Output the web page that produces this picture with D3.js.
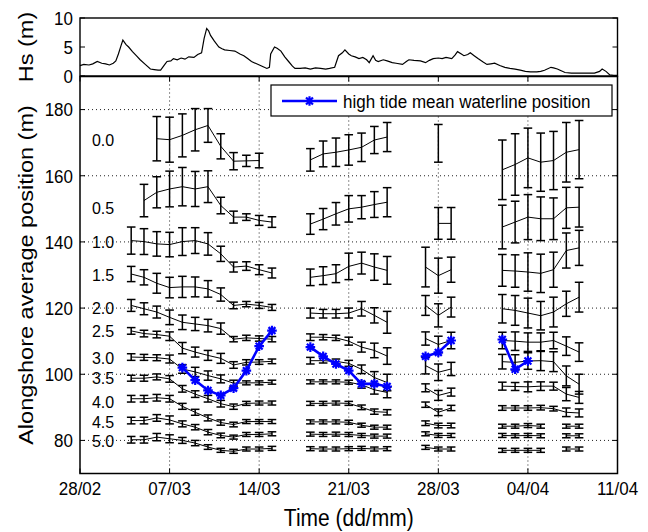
<!DOCTYPE html>
<html><head><meta charset="utf-8">
<script src="https://cdn.jsdelivr.net/npm/d3@7"></script>
<style>body{margin:0;background:#fff} text{font-family:"Liberation Sans",Arial,sans-serif;fill:#000}</style>
</head><body><svg id="c" width="648" height="532"></svg>
<script>
// ---------- data ----------
const dateTicks = [0, 7, 14, 21, 28, 35, 42];            // days since 28/02
const dateLabels = ["28/02", "07/03", "14/03", "21/03", "28/03", "04/04", "11/04"];
const posTicks = [80, 100, 120, 140, 160, 180];
const hsTicks = [0, 5, 10];
const levelNames = ["0.0", "0.5", "1.0", "1.5", "2.0", "2.5", "3.0", "3.5", "4.0", "4.5", "5.0"];
const levelLabelPos = [170.7, 150.2, 139.9, 129.8, 119.9, 112.9, 104.9, 98.8, 91.4, 85.6, 79.9];

const days = [4,5,6,7,8,9,10,11,12,13,14,15, 18,19,20,21,22,23,24, 27,28,29, 33,34,35,36,37,38,39];

const mean00 = [null,null,171.2,170.9,172.2,173.9,175.2,168.9,164.4,164.5,164.6,null, 164.8,166.6,167.1,167.8,168.6,170.8,171.7, null,169.8,null, 161.8,163.4,165.4,164.1,164.6,167.1,167.9];
const err00  = [null,null,6.7,6.8,6.5,6.4,5.1,3.8,2.6,1.7,2.2,null, 3.4,3.9,4.3,4.6,4.3,4.1,4.4, null,5.7,null, 9.0,9.3,9.0,8.8,8.8,9.0,8.8];
const mean05 = [null,152.5,155.0,156.0,156.7,156.0,156.7,151.0,147.5,147.5,146.5,146.0, 145.4,146.9,148.5,150.0,150.5,151.3,152.0, null,145.6,145.6, 144.5,146.0,147.5,147.0,147.0,150.3,150.5];
const err05  = [null,4.9,4.7,5.4,5.8,5.3,4.8,2.5,1.8,1.0,1.5,1.6, 3.1,3.2,3.4,4.0,3.5,3.9,4.4, null,4.8,4.8, 6.6,6.3,6.8,6.6,6.3,6.2,6.0];
const mean10 = [140.4,140.1,139.4,139.2,140.1,140.4,139.4,136.4,132.4,132.7,131.6,130.6, 129.3,129.8,130.4,132.6,133.6,132.4,131.4, 132.4,129.8,131.6, 131.4,131.2,130.9,130.5,131.6,137.4,138.2];
const err10  = [4.1,3.9,3.7,3.7,4.2,3.9,3.4,2.3,1.5,1.3,1.5,1.5, 2.5,2.7,2.7,4.0,3.3,4.0,4.2, 6.0,5.3,3.8, 4.8,4.9,5.8,5.8,5.3,5.3,5.3];
const mean15 = [130.3,129.3,127.5,126.2,126.4,126.4,125.8,124.1,120.8,121.2,120.8,120.2, 118.5,118.3,118.3,118.5,119.8,117.8,115.7, 120.8,117.8,120.3, 119.8,119.3,118.5,117.7,118.8,121.3,123.3];
const err15  = [2.3,2.3,3.0,3.1,3.2,3.0,2.5,2.0,1.0,0.8,0.9,0.9, 1.5,1.3,1.3,1.5,2.2,2.3,3.3, 3.0,3.5,3.0, 4.3,4.5,4.5,4.3,4.5,3.8,4.5];
const mean20 = [120.8,119.8,118.8,117.2,115.7,115.2,114.7,113.8,110.6,111.0,110.8,110.6, 111.2,111.2,111.0,110.0,108.2,107.2,105.5, 110.8,109.0,110.2, 110.2,110.0,109.7,109.7,110.2,108.5,106.7];
const err20  = [1.8,1.8,1.8,2.2,2.2,2.0,1.9,1.7,0.8,0.8,0.8,0.8, 1.0,0.8,0.8,1.2,1.5,2.2,2.5, 2.0,2.5,2.5, 2.5,2.8,2.8,2.8,2.5,2.8,2.8];
const mean25 = [113.1,112.3,112.0,111.5,107.9,106.7,105.7,104.8,102.8,103.6,103.7,103.9, 104.1,104.1,103.9,103.3,101.5,99.0,97.5, 102.6,100.6,101.6, 103.8,103.6,104.0,104.1,103.8,99.5,97.0];
const err25  = [1.0,1.0,1.0,1.3,1.7,1.5,1.5,1.5,1.0,0.8,0.7,0.7, 1.0,0.7,0.7,0.9,1.3,1.8,2.5, 2.5,2.5,2.0, 2.2,2.3,2.5,3.0,3.0,3.0,3.0];
const mean30 = [105.2,105.1,105.0,104.6,101.6,100.7,99.6,98.6,97.3,97.4,97.4,97.6, 97.7,97.7,97.7,97.6,96.8,95.3,94.5, 95.9,93.6,94.6, 96.4,96.3,96.2,96.4,96.4,94.0,93.0];
const err30  = [1.0,0.9,0.9,1.2,1.3,1.4,1.4,1.2,0.9,0.6,0.6,0.6, 0.6,0.6,0.6,0.6,1.0,1.3,1.6, 1.2,1.5,1.2, 1.2,1.2,1.5,1.3,1.2,2.0,1.8];
const mean35 = [98.8,98.8,99.2,98.6,95.6,94.0,92.6,91.1,90.2,91.2,91.3,91.3, 91.2,91.2,91.3,91.2,90.0,88.7,88.5, 90.8,88.5,89.8, 89.8,89.8,89.8,89.9,89.6,88.5,88.3];
const err35  = [0.9,0.9,0.9,1.0,1.0,1.0,1.0,1.0,0.8,0.6,0.6,0.6, 0.6,0.6,0.6,0.6,0.7,0.8,0.8, 0.8,1.0,0.8, 0.7,0.7,0.7,0.7,0.7,1.3,1.2];
const mean40 = [92.6,92.6,92.9,92.6,90.3,88.5,86.8,85.4,84.8,85.7,85.7,85.7, 85.6,85.6,85.6,85.5,84.6,84.0,84.0, 85.2,84.5,84.5, 84.3,84.3,84.5,84.3,null,84.3,84.3];
const err40  = [1.0,1.0,1.0,1.0,0.9,0.9,0.9,0.8,0.7,0.6,0.6,0.6, 0.6,0.6,0.6,0.6,0.6,0.6,0.6, 0.7,0.7,0.7, 0.6,0.6,0.6,0.6,null,0.6,0.6];
const mean45 = [86.0,86.0,86.8,86.2,85.0,84.0,82.5,81.5,81.0,81.8,81.8,82.0, 81.9,81.8,81.9,81.8,81.5,81.3,81.3, 82.0,81.5,81.5, 81.5,81.4,81.5,81.4,null,81.4,81.4];
const err45  = [1.0,1.0,1.0,1.2,0.9,0.8,0.8,0.7,0.6,0.6,0.6,0.6, 0.6,0.6,0.6,0.6,0.6,0.6,0.6, 0.6,0.6,0.6, 0.6,0.6,0.6,0.6,null,0.6,0.6];
const mean50 = [80.2,80.2,81.0,80.5,80.0,79.2,78.0,77.0,76.7,77.4,77.4,77.6, 77.5,77.4,77.4,77.5,77.6,77.4,77.5, 77.9,77.4,77.4, 77.0,77.0,77.0,77.0,null,77.4,77.4];
const err50  = [1.0,1.0,1.1,1.2,0.9,0.8,0.7,0.6,0.6,0.6,0.6,0.6, 0.6,0.6,0.6,0.6,0.6,0.6,0.6, 0.6,0.6,0.6, 0.6,0.6,0.6,0.6,null,0.6,0.6];

const blueDays = [8,9,10,11,12,13,14,15, 18,19,20,21,22,23,24, 27,28,29, 33,34,35];
const blueVals = [102.0,98.2,95.1,93.6,95.8,101.1,108.5,113.2, 108.2,105.4,103.1,101.1,97.1,97.1,96.3, 105.4,106.6,110.2, 110.5,101.5,104.0];

const hsDays = [0,0.3,0.7,1.0,1.35,1.7,2.0,2.3,2.6,2.8,3.0,3.2,3.35,3.6,3.8,4.1,4.4,4.7,5.1,5.5,5.8,6.1,6.3,6.6,6.8,7.1,7.3,7.6,7.9,8.2,8.5,8.9,9.2,9.5,9.7,9.9,10.05,10.2,10.5,10.85,11.1,11.3,11.7,12.1,12.5,12.8,13.1,13.4,13.8,14.1,14.4,14.6,14.8,14.9,15.2,15.4,15.7,16.0,16.3,16.6,16.8,17.2,17.6,18.0,18.4,18.8,19.2,19.5,19.9,20.2,20.5,20.7,21.0,21.2,21.5,21.8,22.1,22.4,22.6,22.9,23.1,23.3,23.7,24.0,24.4,24.7,25.2,25.5,25.7,26.1,26.6,27.0,27.3,27.6,28.0,28.3,28.6,29.05,29.3,29.5,29.8,30.0,30.3,30.5,30.8,31.1,31.5,31.8,32.1,32.4,32.8,33.2,33.6,34.0,34.4,34.8,35.2,35.7,36.0,36.3,36.8,37.0,37.3,37.6,37.9,38.4,38.9,39.5,40.2,40.6,40.8,41.1,41.4,41.7,42.0];
const hsVals = [1.8,2.0,1.9,2.1,2.5,2.2,2.1,1.9,2.2,2.6,3.8,5.2,6.2,5.4,5.0,4.2,3.5,2.8,2.0,1.2,1.1,1.0,1.0,1.9,2.5,2.6,3.0,2.8,3.1,2.9,3.3,3.2,3.7,4.0,6.5,8.2,7.8,7.0,6.0,5.0,4.7,4.5,4.4,4.3,3.8,3.5,3.0,2.5,2.1,1.8,1.5,1.3,1.5,3.8,5.0,4.8,4.3,3.3,2.5,1.7,1.3,1.3,1.4,1.2,1.4,1.3,1.2,1.3,1.5,3.5,4.0,4.5,3.8,3.5,3.3,3.0,3.2,2.8,2.3,3.5,2.7,2.5,2.8,2.6,2.3,2.2,2.0,2.5,2.8,2.7,2.6,2.3,2.7,3.0,3.1,3.0,3.2,3.0,3.6,4.2,3.8,3.5,3.7,4.0,3.5,3.0,2.4,2.0,2.1,2.2,1.8,1.5,1.3,1.2,1.0,0.8,0.7,0.7,0.8,1.0,1.5,1.4,1.2,0.9,0.6,0.5,0.5,0.5,0.5,0.8,1.2,0.8,0.2,0.1,0.1];

// ---------- layout ----------
const svg = d3.select("#c");
const L = 80, R = 617.5;
const SY = 1.12;
const x = d3.scaleLinear().domain([0, 42]).range([L, R]);
const yHs = d3.scaleLinear().domain([0, 10]).range([76, 18]);
const y = d3.scaleLinear().domain([70, 190]).range([473.5, 76.5]);

function txt(g, px, py, s, size, anchor, sy) {
  return g.append("text")
    .attr("transform", `translate(${px},${py}) scale(1,${sy || SY})`)
    .attr("text-anchor", anchor || "middle")
    .attr("dy", "0.36em")
    .style("font-size", size + "px")
    .text(s);
}

// ---------- top panel (Hs) ----------
const topG = svg.append("g");
topG.append("path")
  .datum(hsDays.map((d, i) => [d, hsVals[i]]))
  .attr("fill", "none").attr("stroke", "#000").attr("stroke-width", 1.2)
  .attr("d", d3.line().x(d => x(d[0])).y(d => yHs(d[1])));
topG.append("rect").attr("x", L).attr("y", yHs(10)).attr("width", R - L).attr("height", yHs(0) - yHs(10))
  .attr("fill", "none").attr("stroke", "#000").attr("stroke-width", 1.4);
hsTicks.forEach(t => {
  topG.append("line").attr("x1", L).attr("x2", L + 5).attr("y1", yHs(t)).attr("y2", yHs(t)).attr("stroke", "#000");
  topG.append("line").attr("x1", R).attr("x2", R - 5).attr("y1", yHs(t)).attr("y2", yHs(t)).attr("stroke", "#000");
  txt(topG, L - 7, yHs(t), String(t), 17, "end");
});
topG.append("text")
  .attr("transform", `translate(33,${(yHs(0) + yHs(10)) / 2}) scale(1,${SY}) rotate(-90)`)
  .attr("text-anchor", "middle").style("font-size", "21px").text("Hs (m)");

// ---------- main panel ----------
const mainG = svg.append("g");
dateTicks.slice(1, -1).forEach(t => {
  mainG.append("line").attr("x1", x(t)).attr("x2", x(t)).attr("y1", y(190)).attr("y2", y(70))
    .attr("stroke", "#222").attr("stroke-width", 1).attr("stroke-dasharray", "1,3");
});
posTicks.forEach(t => {
  mainG.append("line").attr("x1", L).attr("x2", R).attr("y1", y(t)).attr("y2", y(t))
    .attr("stroke", "#222").attr("stroke-width", 1).attr("stroke-dasharray", "1,3");
});

function segments(ds, vs) {
  const segs = []; let cur = [];
  ds.forEach((d, i) => {
    const v = vs[i];
    if (v == null) { if (cur.length) segs.push(cur); cur = []; return; }
    if (cur.length && d - cur[cur.length - 1][0] > 1) { segs.push(cur); cur = []; }
    cur.push([d, v]);
  });
  if (cur.length) segs.push(cur);
  return segs;
}

const means = [mean00, mean05, mean10, mean15, mean20, mean25, mean30, mean35, mean40, mean45, mean50];
const errs = [err00, err05, err10, err15, err20, err25, err30, err35, err40, err45, err50];
const lineGen = d3.line().x(d => x(d[0])).y(d => y(d[1]));
const cap = 4.3;

means.forEach((m, li) => {
  const e = errs[li];
  const g = mainG.append("g");
  segments(days, m).forEach(seg => {
    g.append("path").datum(seg).attr("fill", "none").attr("stroke", "#000").attr("stroke-width", 1).attr("d", lineGen);
  });
  days.forEach((d, i) => {
    if (m[i] == null) return;
    const xx = x(d), y1 = y(m[i] + e[i]), y2 = y(m[i] - e[i]);
    g.append("line").attr("x1", xx).attr("x2", xx).attr("y1", y1).attr("y2", y2).attr("stroke", "#000").attr("stroke-width", 1.5);
    g.append("line").attr("x1", xx - cap).attr("x2", xx + cap).attr("y1", y1).attr("y2", y1).attr("stroke", "#000").attr("stroke-width", 1.5);
    g.append("line").attr("x1", xx - cap).attr("x2", xx + cap).attr("y1", y2).attr("y2", y2).attr("stroke", "#000").attr("stroke-width", 1.5);
  });
  txt(mainG, x(1.8), y(levelLabelPos[li]), levelNames[li], 16, "middle", 1.0);
});

function star(g, cx, cy, r) {
  const a = r * 0.72;
  const d = `M${cx - r},${cy}L${cx + r},${cy}M${cx},${cy - r}L${cx},${cy + r}M${cx - a},${cy - a}L${cx + a},${cy + a}M${cx - a},${cy + a}L${cx + a},${cy - a}`;
  g.append("path").attr("d", d).attr("stroke", "#0000ff").attr("stroke-width", 2.2).attr("fill", "none");
}
const blueG = mainG.append("g");
segments(blueDays, blueVals).forEach(seg => {
  blueG.append("path").datum(seg).attr("fill", "none").attr("stroke", "#0000ff").attr("stroke-width", 2.6).attr("d", lineGen);
});
blueDays.forEach((d, i) => star(blueG, x(d), y(blueVals[i]), 4.8));

const lg = mainG.append("g");
lg.append("rect").attr("x", 271).attr("y", 85).attr("width", 341).attr("height", 31)
  .attr("fill", "#fff").attr("stroke", "#000").attr("stroke-width", 1.2);
lg.append("line").attr("x1", 282).attr("x2", 337).attr("y1", 101).attr("y2", 101).attr("stroke", "#0000ff").attr("stroke-width", 2.6);
star(lg, 309.5, 101, 4.8);
txt(lg, 343, 101, "high tide mean waterline position", 17, "start");

mainG.append("rect").attr("x", L).attr("y", y(190)).attr("width", R - L).attr("height", y(70) - y(190))
  .attr("fill", "none").attr("stroke", "#000").attr("stroke-width", 1.5);
posTicks.forEach(t => {
  mainG.append("line").attr("x1", L).attr("x2", L + 5).attr("y1", y(t)).attr("y2", y(t)).attr("stroke", "#000");
  mainG.append("line").attr("x1", R).attr("x2", R - 5).attr("y1", y(t)).attr("y2", y(t)).attr("stroke", "#000");
  txt(mainG, L - 7, y(t), String(t), 17, "end");
});
dateTicks.forEach((t, i) => {
  mainG.append("line").attr("x1", x(t)).attr("x2", x(t)).attr("y1", y(70)).attr("y2", y(70) - 5).attr("stroke", "#000");
  mainG.append("line").attr("x1", x(t)).attr("x2", x(t)).attr("y1", y(190)).attr("y2", y(190) + 5).attr("stroke", "#000");
  txt(mainG, x(t), 488, dateLabels[i], 17, "middle");
});
txt(mainG, (L + R) / 2, 518, "Time (dd/mm)", 21, "middle");
mainG.append("text")
  .attr("transform", `translate(33,${(y(70) + y(190)) / 2}) scale(1,${SY}) rotate(-90)`)
  .attr("text-anchor", "middle").style("font-size", "21px").text("Alongshore average position (m)");
</script>
</body></html>
